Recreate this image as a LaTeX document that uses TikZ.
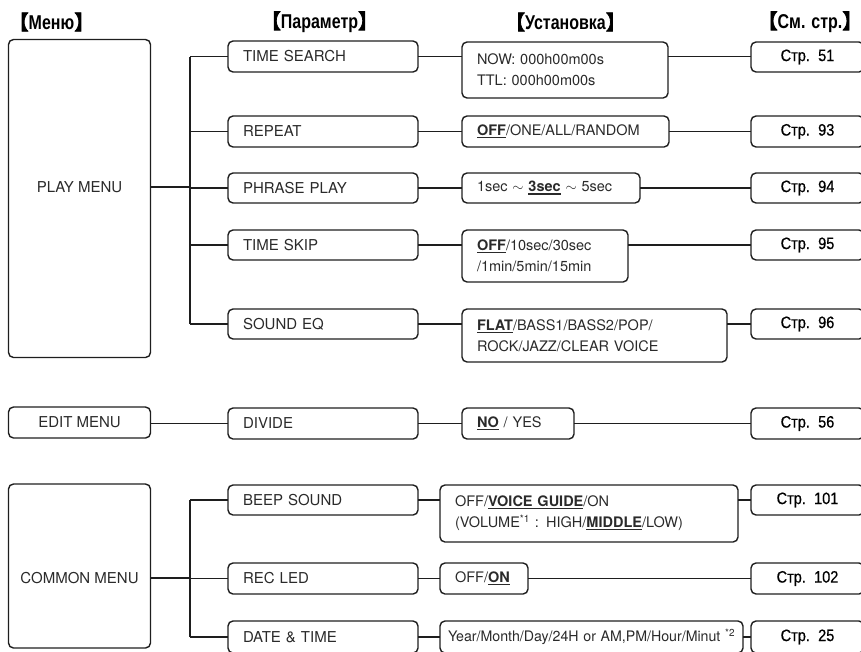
\documentclass[tikz,border=0pt]{standalone}
\usepackage{fontspec}
\usepackage{graphicx}
\setmainfont{TeX Gyre Heros}
\newfontfamily\reffont[FakeStretch=0.88,WordSpace=0.55,FakeBold=0.6]{Liberation Sans}
\newfontfamily\hdfont[FakeStretch=0.8]{Liberation Sans}
\newfontfamily\cjk[FakeBold=4]{Noto Sans CJK SC}
\definecolor{lc}{HTML}{1E1E1E}
\definecolor{tc}{HTML}{2A2A2A}
\newcommand\ulb[1]{\setbox0\hbox{\bfseries #1}\rlap{\rule[-2.6pt]{\wd0}{1.3pt}}\box0\relax}
\begin{document}
\begin{tikzpicture}[x=1pt,y=-1pt,
  bx/.style={draw=lc, rounded corners=5pt, line width=1.4pt, inner ysep=0pt, outer sep=0pt, anchor=north west, text=tc},
  mn/.style={bx, minimum width=142pt, inner xsep=0pt, align=center, font=\fontsize{15}{18}\selectfont},
  prm/.style={bx, minimum width=190pt, text width=160pt, inner xsep=15pt, align=left, font=\fontsize{15}{18}\selectfont},
  setb/.style={bx, inner xsep=15pt, align=left, font=\fontsize{14.5}{21}\selectfont},
  pg/.style={bx, minimum width=113pt, text width=83pt, inner xsep=15pt, align=center, text=black, font=\reffont\fontsize{16.5}{19}\selectfont},
  lbl/.style={inner sep=0pt, text=tc, font=\fontsize{15}{18}\selectfont},
  hd/.style={inner sep=0pt, text=black, font=\hdfont\bfseries\fontsize{20}{22}\selectfont},
  ln/.style={draw=lc, line width=1.4pt}]
\path[use as bounding box] (0,0) rectangle (861,651);
\clip (0,0) rectangle (861,651);

% headers
\node[hd] (h1) at (51.5,22) {{\cjk\mdseries【}Меню{\cjk\mdseries】}};
\node[hd] (h2) at (319.5,22) {{\cjk\mdseries【}Параметр{\cjk\mdseries】}};
\node[hd] (h3) at (565.5,22) {{\cjk\mdseries【}Установка{\cjk\mdseries】}};
\node[hd] (h4) at (810,22) {{\cjk\mdseries【}См. стр.{\cjk\mdseries】}};

% menu boxes
\node[mn, minimum height=318pt] (playm) at (8.5,39.5) {};
\node[lbl] (playt) at (79.5,187) {PLAY MENU};
\node[mn, minimum height=31pt] (editm) at (8.5,407) {EDIT MENU};
\node[mn, minimum height=164pt] (commm) at (8.5,484) {};
\node[lbl] (commt) at (79.5,578) {COMMON MENU};

% parameter boxes
\node[prm, minimum height=31pt] (ts) at (228,41) {TIME SEARCH};
\node[prm, minimum height=31pt] (rp) at (228,116) {REPEAT};
\node[prm, minimum height=30pt] (pp) at (228,173) {PHRASE PLAY};
\node[prm, minimum height=30pt] (tk) at (228,230) {TIME SKIP};
\node[prm, minimum height=30pt] (se) at (228,309) {SOUND EQ};
\node[prm, minimum height=31pt] (dv) at (228,408) {DIVIDE};
\node[prm, minimum height=30pt] (bs) at (228,485) {BEEP SOUND};
\node[prm, minimum height=31pt] (rl) at (228,563) {REC LED};
\node[prm, minimum height=32pt] (dt) at (228,621) {DATE \& TIME};

% setting boxes
\node[setb, text width=176pt, minimum height=56pt] (s1) at (462,42) {NOW: 000h00m00s\\TTL: 000h00m00s};
\node[setb, text width=177pt, minimum height=31pt] (s2) at (462,116) {\ulb{OFF}/ONE/ALL/RANDOM};
\node[setb, text width=148pt, minimum height=30pt] (s3) at (462,173) {1sec $\sim$ \ulb{3sec} $\sim$ 5sec};
\node[setb, text width=136pt, minimum height=52pt] (s4) at (462,230) {\ulb{OFF}/10sec/30sec\\/1min/5min/15min};
\node[setb, text width=235pt, minimum height=53pt] (s5) at (462,309) {\ulb{FLAT}/BASS1/BASS2/POP/\\ROCK/JAZZ/CLEAR VOICE};
\node[setb, text width=82pt, minimum height=31pt] (s6) at (462,408) {\ulb{NO} / YES};
\node[setb, text width=268pt, minimum height=57pt] (s7) at (440,485) {OFF/\ulb{VOICE GUIDE}/ON\\(VOLUME\textsuperscript{*1} : HIGH/\ulb{MIDDLE}/LOW)};
\node[setb, text width=58pt, minimum height=31pt] (s8) at (440,563) {OFF/\ulb{ON}};
\node[setb, inner xsep=8pt, text width=287pt, minimum height=32pt] (s9) at (440,621) {\resizebox{287pt}{\height}{Year/Month/Day/24H or AM,PM/Hour/Minut \textsuperscript{*2}}};

% page boxes
\node[pg, minimum height=30pt] (p1) at (751,42) {Стр. 51};
\node[pg, minimum height=31pt] (p2) at (751,116) {Стр. 93};
\node[pg, minimum height=30pt] (p3) at (751,173) {Стр. 94};
\node[pg, minimum height=30pt] (p4) at (751,230) {Стр. 95};
\node[pg, minimum height=30pt] (p5) at (751,309) {Стр. 96};
\node[pg, minimum height=31pt] (p6) at (751,408) {Стр. 56};
\node[pg, minimum height=30pt] (p7) at (751,485) {Стр. 101};
\node[pg, minimum height=31pt] (p8) at (751,563) {Стр. 102};
\node[pg, minimum height=32pt] (p9) at (751,621) {Стр. 25};

% buses
\coordinate (busP) at (190,0);
\draw[ln] (playt -| playm.east) -- (playt -| busP);
\draw[ln] (ts.west -| busP) -- (se.west -| busP);
\foreach \p in {ts,rp,pp,tk,se,bs,rl,dt} \draw[ln] (\p.west -| busP) -- (\p.west);
\draw[ln] (commt -| commm.east) -- (commt -| busP);
\draw[ln] (bs.west -| busP) -- (dt.west -| busP);
\draw[ln] (dv.west -| editm.east) -- (dv.west);

% parameter -> setting -> page
\foreach \p/\s/\g in {ts/s1/p1,rp/s2/p2,pp/s3/p3,tk/s4/p4,se/s5/p5,dv/s6/p6,bs/s7/p7,rl/s8/p8,dt/s9/p9}{
  \draw[ln] (\p.east) -- (\s.west |- \p.east);
  \draw[ln] (\s.east |- \p.east) -- (\g.west |- \p.east);
}
\end{tikzpicture}
\end{document}
